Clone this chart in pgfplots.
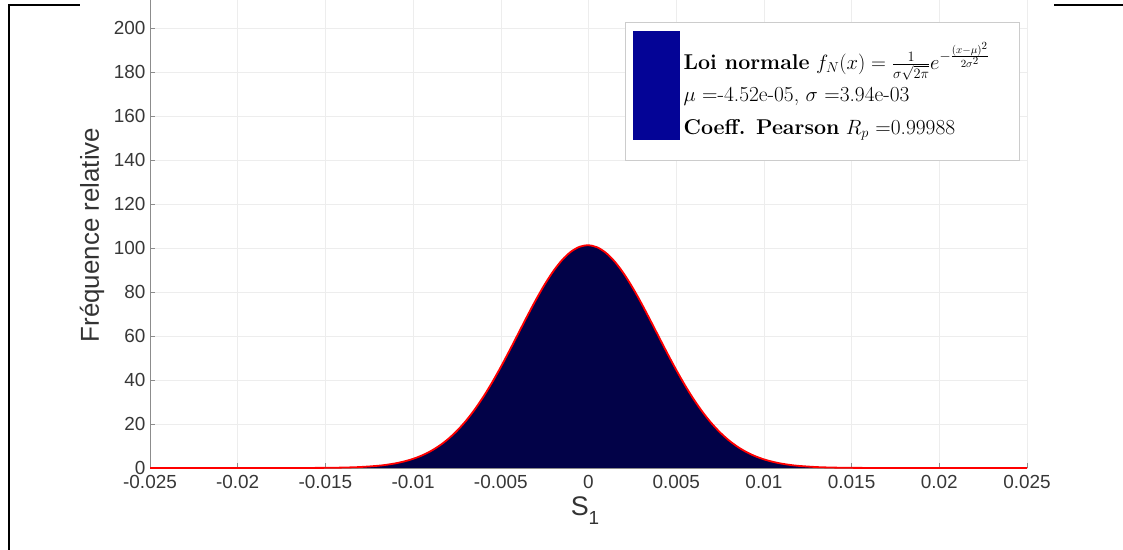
\documentclass[border=0pt]{standalone}
\usepackage{pgfplots}
\pgfplotsset{compat=1.18}
\usepackage{pgfplotstable}
\usepackage{fontspec}
\newfontfamily\arial{Liberation Sans}
\definecolor{histblue}{RGB}{2,2,72}
\definecolor{legblue}{RGB}{4,4,150}
\definecolor{ticktext}{RGB}{55,55,55}
\definecolor{axgray}{RGB}{140,140,140}

\pgfplotstableread{
x y
-0.025 0
-0.020 0
-0.017 0.01
-0.016 0.03
-0.015 0.07
-0.014 0.19
-0.013 0.45
-0.012 1.01
-0.0115 1.48
-0.011 2.12
-0.0105 3.00
-0.010 4.16
-0.0095 5.69
-0.009 7.65
-0.0085 10.13
-0.008 13.19
-0.0075 16.91
-0.007 21.32
-0.0065 26.46
-0.006 32.31
-0.0055 38.83
-0.005 45.92
-0.0045 53.43
-0.004 61.18
-0.0035 68.94
-0.003 76.43
-0.0025 83.39
-0.002 89.53
-0.0015 94.58
-0.001 98.32
-0.0005 100.58
0 101.24
0.0005 100.29
0.001 97.75
0.0015 93.76
0.002 88.49
0.0025 82.18
0.003 75.11
0.0035 67.54
0.004 59.77
0.0045 52.05
0.005 44.60
0.0055 37.61
0.006 31.20
0.0065 25.48
0.007 20.47
0.0075 16.18
0.008 12.59
0.0085 9.64
0.009 7.26
0.0095 5.38
0.010 3.93
0.0105 2.82
0.011 1.99
0.0115 1.38
0.012 0.95
0.013 0.42
0.014 0.18
0.015 0.07
0.016 0.03
0.017 0.01
0.020 0
0.025 0
}\histdata

\begin{document}
\begin{tikzpicture}[x=1bp,y=1bp]
\useasboundingbox (0,0) rectangle (1123,550);
\draw[line width=2bp] (9,0) -- (9,545) -- (80,545);
\draw[line width=2bp] (1054,545) -- (1123,545);
\begin{axis}[
  at={(150bp,82bp)}, anchor=south west,
  width=877bp, height=484bp, scale only axis,
  xmin=-0.025, xmax=0.025, ymin=0, ymax=220,
  axis lines=left, axis line style={-, axgray, line width=0.8bp},
  xtick={-0.025,-0.02,-0.015,-0.01,-0.005,0,0.005,0.01,0.015,0.02,0.025},
  xticklabels={-0.025,-0.02,-0.015,-0.01,-0.005,0,0.005,0.01,0.015,0.02,0.025},
  scaled x ticks=false,
  ytick={0,20,40,60,80,100,120,140,160,180,200},
  grid=major, grid style={color=black!7, line width=0.6bp},
  tick align=inside, major tick length=5bp, tick style={axgray, line width=0.8bp},
  /pgf/number format/assume math mode=true,
  tick label style={font=\arial\fontsize{19}{19}\selectfont, text=ticktext},
  xticklabel style={yshift=-4bp},
  yticklabel style={xshift=-1bp},
  clip=false,
  legend style={at={(0.992,0.9215)}, anchor=north east, draw=black!20, fill=white,
    line width=0.8bp, inner xsep=8bp, inner ysep=20bp,
    nodes={inner ysep=0bp, text depth=, text height=},
    font=\fontsize{21.5}{21.5}\selectfont},
  legend cell align=left,
]
\addplot[fill=histblue, draw=none, forget plot] table {\histdata} \closedcycle;
\addplot[red, line width=1.8bp, smooth, forget plot] table {\histdata};
\addlegendimage{legend image code/.code={
  \path[draw=none, fill=none] (0bp,0bp) -- (48bp,0bp);
  \fill[legblue, overlay] (0bp,60bp) rectangle (46bp,-48bp);}}
\addlegendentry{\begin{tabular}[t]{@{}l@{}}\makebox[326bp][l]{\textbf{Loi normale} $f_N(x)=\frac{1}{\sigma\sqrt{2\pi}}e^{-\frac{(x-\mu)^2}{2\sigma^2}}$}\\[10bp]
$\mu$ =-4.52e-05, $\sigma$ =3.94e-03\\[11.5bp]
\textbf{Coeff. Pearson} $R_p$ =0.99988\end{tabular}}
\end{axis}
\node[rotate=90, font=\arial\fontsize{26}{26}\selectfont, text=black!80] at (92,315) {Fréquence relative};
\node[font=\arial\fontsize{27}{27}\selectfont, text=black!80, anchor=base] at (585,34) {S\raisebox{-9bp}{\fontsize{19}{19}\selectfont 1}};
\end{tikzpicture}
\end{document}
